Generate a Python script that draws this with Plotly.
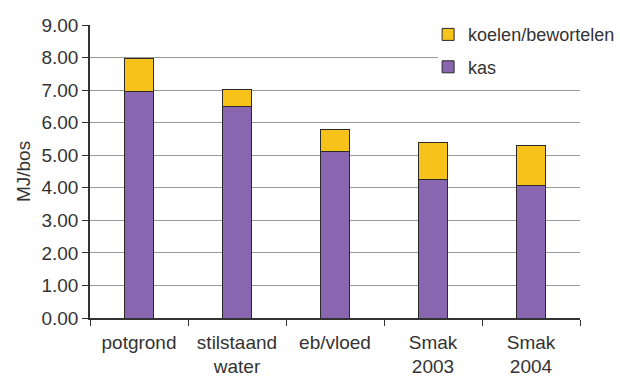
import plotly.graph_objects as go

categories = ["potgrond", "stilstaand<br>water", "eb/vloed", "Smak<br>2003", "Smak<br>2004"]
kas = [6.96, 6.50, 5.10, 4.26, 4.08]
totaal = [7.98, 7.01, 5.80, 5.38, 5.31]
koelen = [round(t - k, 2) for t, k in zip(totaal, kas)]
yticks = [0, 1, 2, 3, 4, 5, 6, 7, 8, 9]

FONT = "Liberation Sans, Arial, sans-serif"
TXT = "#333333"
FS = 19

fig = go.Figure()
fig.add_trace(go.Bar(x=categories, y=kas, name="kas", legendgroup="a", legendrank=2,
                     marker=dict(color="#8866b0", line=dict(color="#2a2a2a", width=1))))
fig.add_trace(go.Bar(x=categories, y=koelen, name="koelen/bewortelen", legendgroup="b", legendrank=1,
                     marker=dict(color="#f7c21a", line=dict(color="#2a2a2a", width=1))))

fig.update_layout(
    width=620, height=378,
    barmode="stack", bargap=0.7,
    margin=dict(l=90, r=40, t=25, b=60, autoexpand=False),
    paper_bgcolor="white", plot_bgcolor="white",
    font=dict(family=FONT, size=FS, color=TXT),
    showlegend=True,
    legend=dict(x=0.69, y=1.03, xanchor="left", yanchor="top",
                bgcolor="rgba(0,0,0,0)", font=dict(size=18, color=TXT),
                traceorder="grouped", tracegroupgap=6),
    shapes=[dict(type="rect", xref="paper", yref="paper", x0=0.71, x1=1.0,
                 y0=0.85, y1=1.01, fillcolor="white", line=dict(width=0), layer="above")],
)
fig.update_xaxes(showline=True, linecolor="#333333", linewidth=1.5, automargin=False,
                 ticks="outside", tickson="boundaries", ticklen=6, tickcolor="#333333",
                 tickfont=dict(size=FS, color=TXT), showgrid=False, ticklabelstandoff=6)
fig.update_yaxes(range=[0, 9], tickvals=yticks, tickformat=".2f", automargin=False,
                 showline=True, linecolor="#333333", linewidth=1.5,
                 ticks="outside", ticklen=6, tickcolor="#333333",
                 gridcolor="#9a9a9a", gridwidth=1,
                 tickfont=dict(size=FS, color=TXT),
                 title=dict(text="MJ/bos", font=dict(size=FS, color=TXT), standoff=6),
                 zeroline=False)

fig.write_html("out.html")
